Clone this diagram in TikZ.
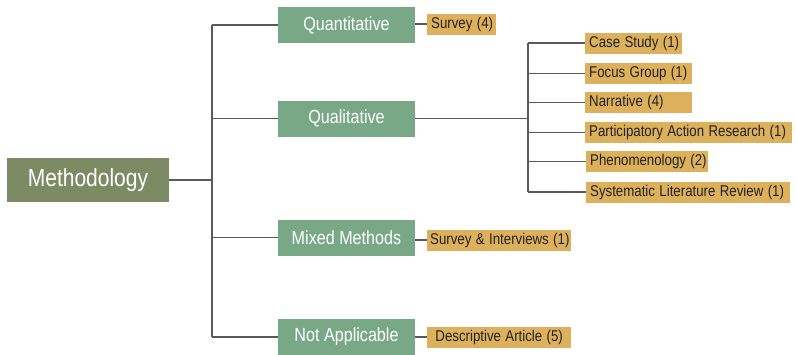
\documentclass[tikz,border=0pt]{standalone}
\usepackage{fontspec}
\usepackage{graphicx}
\setmainfont{Liberation Sans}
\newcommand{\nar}[1]{\scalebox{0.85}[1]{#1}}
\definecolor{olive}{HTML}{7D8B65}
\definecolor{midgreen}{HTML}{78A886}
\definecolor{gold}{HTML}{DDB05B}
\definecolor{conn}{HTML}{5A5A5A}
\definecolor{leaftext}{HTML}{222222}
\begin{document}
\begin{tikzpicture}[x=1pt,y=1pt,
  rootbox/.style={fill=olive,text=white,minimum width=162pt,minimum height=44pt,inner sep=0pt,font=\fontsize{24.7}{28}\selectfont},
  catbox/.style={fill=midgreen,text=white,minimum width=137pt,minimum height=36pt,inner sep=0pt,font=\fontsize{19}{22}\selectfont},
  leafbox/.style={fill=gold,text=leaftext,anchor=west,inner xsep=4pt,inner ysep=3pt,text height=11.5pt,text depth=3.5pt,align=left,font=\fontsize{15.6}{18}\selectfont},
  link/.style={draw=conn,line width=1.6pt}]
\useasboundingbox[fill=white] (0,0) rectangle (796,-354);
% root and categories
\node[rootbox] (meth) at (88,-180) {\nar{Methodology}};
\node[catbox] (quant) at (346.5,-25) {\nar{Quantitative}};
\node[catbox] (qual) at (346.5,-118.5) {\nar{Qualitative}};
\node[catbox] (mixed) at (346.5,-237.5) {\nar{Mixed Methods}};
\node[catbox] (na) at (346.5,-337) {\nar{Not Applicable}};
% leaves
\node[leafbox,text width=61pt] (survey) at (427,-24) {\nar{Survey (4)}};
\node[leafbox,text width=89pt] (case) at (585,-43) {\nar{Case Study (1)}};
\node[leafbox,text width=99pt] (focus) at (585,-73.5) {\nar{Focus Group (1)}};
\node[leafbox,text width=99pt] (narr) at (585,-102.5) {\nar{Narrative (4)}};
\node[leafbox,text width=199pt] (par) at (585,-132.5) {\nar{Participatory Action Research (1)}};
\node[leafbox,text width=114pt] (phen) at (586,-161.5) {\nar{Phenomenology (2)}};
\node[leafbox,text width=196pt] (slr) at (586,-192) {\nar{Systematic Literature Review (1)}};
\node[leafbox,text width=138pt,inner xsep=3pt] (si) at (427,-240) {\nar{Survey \& Interviews (1)}};
\node[leafbox,text width=136pt,align=center] (da) at (427,-337) {\nar{Descriptive Article (5)}};
% trunk coordinates
\coordinate (ttop) at (212,-25);
\coordinate (tbot) at (212,-337);
\coordinate (qtop) at (528,-43);
\coordinate (qbot) at (528,-192);
% main trunk
\draw[link] (ttop) -- (tbot);
\draw[link] (meth.east) -- (meth.east -| ttop);
\draw[link] (quant.west) -- (quant.west -| ttop);
\draw[link] (qual.west) -- (qual.west -| ttop);
\draw[link] (mixed.west) -- (mixed.west -| ttop);
\draw[link] (na.west) -- (na.west -| ttop);
% category to leaves
\draw[link] (survey.west -| quant.east) -- (survey.west);
\draw[link] (si.west -| mixed.east) -- (si.west);
\draw[link] (da.west -| na.east) -- (da.west);
% qualitative sub-trunk
\draw[link] (qual.east) -- (qual.east -| qtop);
\draw[link] (qtop) -- (qbot);
\draw[link] (case.west) -- (case.west -| qtop);
\draw[link] (focus.west) -- (focus.west -| qtop);
\draw[link] (narr.west) -- (narr.west -| qtop);
\draw[link] (par.west) -- (par.west -| qtop);
\draw[link] (phen.west) -- (phen.west -| qtop);
\draw[link] (slr.west) -- (slr.west -| qtop);
\end{tikzpicture}
\end{document}
